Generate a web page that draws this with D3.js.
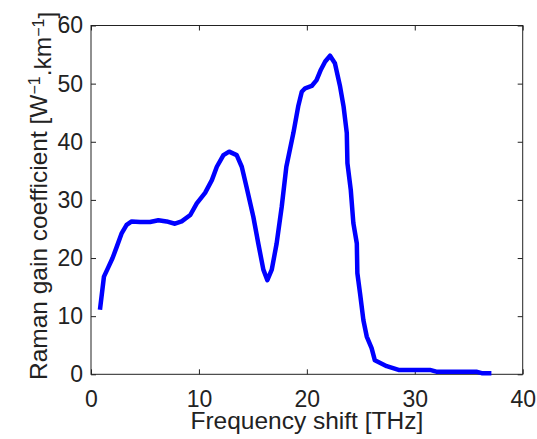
<!DOCTYPE html>
<meta charset="utf-8">
<style>

body { margin: 0; background: #fff; }

text {
  font-family: "Liberation Sans", Arial, sans-serif;
  fill: #222;
}

.axis path, .axis line {
  stroke: #222;
}

</style>
<svg width="537" height="439"></svg>
<script src="https://d3js.org/d3.v7.min.js"></script>
<script>

// frequency shift (THz) and Raman gain
var freq = [0.83, 1.2, 1.6, 2.0, 2.4, 2.85, 3.3, 3.77, 4.54, 5.47, 6.24, 7.0, 7.78, 8.4,
            9.2, 9.8, 10.57, 11.2, 11.66, 12.27, 12.8, 13.5, 13.97, 14.4, 15.04, 15.5,
            15.97, 16.34, 16.75, 17.2, 17.67, 18.1, 18.75, 19.2, 19.53, 19.84, 20.45,
            20.9, 21.3, 21.7, 22.15, 22.6, 23.08, 23.4, 23.7, 23.76, 24.07, 24.31,
            24.63, 24.68, 24.93, 25.24, 25.55, 26.0, 26.3, 27.4, 28.5, 31.4, 32.0,
            35.7, 36.2, 37.1];
var gain = [11.1, 16.8, 18.4, 20, 22, 24.3, 25.7, 26.3, 26.2, 26.2, 26.5, 26.3, 25.9, 26.3,
            27.4, 29.4, 31.2, 33.4, 35.7, 37.7, 38.3, 37.7, 35.7, 32.3, 27.1, 22.5,
            18, 16.2, 18, 22.5, 28.8, 35.7, 41.5, 46.1, 48.6, 49.2, 49.6,
            50.6, 52.4, 53.8, 54.8, 53.5, 49.5, 46.1, 41.5, 36.3, 31.7, 26,
            22.5, 17.4, 13.9, 9.3, 6.5, 4.5, 2.4, 1.4, 0.75, 0.75, 0.45,
            0.45, 0.2, 0.2];

var xTicks = [0, 10, 20, 30, 40];
var yTicks = [0, 10, 20, 30, 40, 50, 60];

var svg = d3.select("svg"),
    mLeft = 91, mRight = 522.7, mTop = 25.5, mBottom = 374.3;

var x = d3.scaleLinear().domain([0, 40]).range([mLeft, mRight]);
var y = d3.scaleLinear().domain([0, 60]).range([mBottom, mTop]);

var data = freq.map(function(f, i) { return [f, gain[i]]; });

// box
svg.append("rect")
    .attr("x", mLeft).attr("y", mTop)
    .attr("width", mRight - mLeft).attr("height", mBottom - mTop)
    .attr("fill", "none").attr("stroke", "#222").attr("stroke-width", 1);

// axes, ticks pointing inward
svg.append("g").attr("class", "axis")
    .attr("transform", "translate(0," + mBottom + ")")
    .call(d3.axisBottom(x).tickValues(xTicks).tickSizeInner(-5).tickSizeOuter(0).tickPadding(16))
    .call(function(g) { g.select(".domain").remove(); })
    .selectAll("text").style("font-size", "23px").attr("fill", "#222");

svg.append("g").attr("class", "axis")
    .attr("transform", "translate(0," + mTop + ")")
    .call(d3.axisTop(x).tickValues(xTicks).tickSizeInner(-5).tickSizeOuter(0).tickFormat(""))
    .call(function(g) { g.select(".domain").remove(); });

svg.append("g").attr("class", "axis")
    .attr("transform", "translate(" + mLeft + ",0)")
    .call(d3.axisLeft(y).tickValues(yTicks).tickSizeInner(-5).tickSizeOuter(0).tickPadding(8))
    .call(function(g) { g.select(".domain").remove(); })
    .selectAll("text").style("font-size", "23px").attr("fill", "#222");

svg.append("g").attr("class", "axis")
    .attr("transform", "translate(" + mRight + ",0)")
    .call(d3.axisRight(y).tickValues(yTicks).tickSizeInner(-5).tickSizeOuter(0).tickFormat(""))
    .call(function(g) { g.select(".domain").remove(); });

// curve
var line = d3.line()
    .x(function(d) { return x(d[0]); })
    .y(function(d) { return y(d[1]); });

svg.append("path")
    .datum(data)
    .attr("d", line)
    .attr("fill", "none")
    .attr("stroke", "#0000ff")
    .attr("stroke-width", 4.5)
    .attr("stroke-linejoin", "round");

// labels
svg.append("text")
    .attr("x", (mLeft + mRight) / 2)
    .attr("y", 429)
    .attr("text-anchor", "middle")
    .style("font-size", "24.5px")
    .text("Frequency shift [THz]");

var yl = svg.append("text")
    .attr("transform", "translate(47," + ((mTop + mBottom) / 2 - 4) + ") rotate(-90)")
    .attr("text-anchor", "middle")
    .style("font-size", "24.5px");
yl.append("tspan").text("Raman gain coefficient [W");
yl.append("tspan").attr("dy", "-0.45em").style("font-size", "16px").text("\u22121");
yl.append("tspan").attr("dy", "0.45em").text(".km");
yl.append("tspan").attr("dy", "-0.45em").style("font-size", "16px").text("\u22121");
yl.append("tspan").attr("dy", "0.45em").text("]");

</script>
